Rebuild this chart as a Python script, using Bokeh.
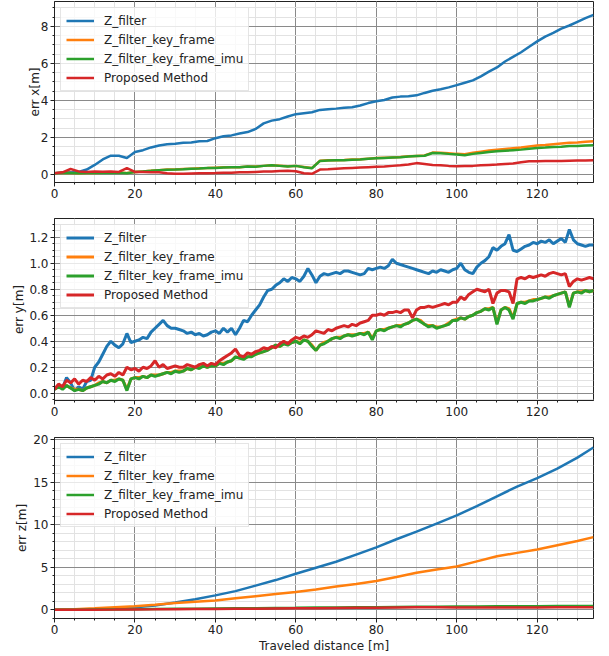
from bokeh.plotting import figure
from bokeh.layouts import column
from bokeh.models import Range1d, SingleIntervalTicker, PrintfTickFormatter
from bokeh.embed import file_html
from bokeh.resources import INLINE

# ---------------- data ----------------
labels = ["Z_filter", "Z_filter_key_frame", "Z_filter_key_frame_imu", "Proposed Method"]
colors = ["#1f77b4", "#ff7f0e", "#2ca02c", "#d62728"]

# panel 1 : err x, sampled every 2 m
d1 = list(range(0, 135, 2))
ex_zf = [0.05, 0.08, 0.1, 0.12, 0.25, 0.5, 0.8, 1.0, 1.0, 0.88,
         1.2, 1.3, 1.45, 1.55, 1.62, 1.65, 1.7, 1.72, 1.78, 1.8,
         1.95, 2.05, 2.1, 2.2, 2.28, 2.45, 2.75, 2.9, 2.98, 3.12,
         3.25, 3.3, 3.35, 3.48, 3.52, 3.55, 3.6, 3.62, 3.72, 3.85,
         3.95, 4.02, 4.15, 4.2, 4.22, 4.27, 4.4, 4.52, 4.6, 4.7,
         4.82, 4.95, 5.08, 5.3, 5.55, 5.78, 6.1, 6.35, 6.6, 6.9,
         7.19, 7.45, 7.65, 7.88, 8.05, 8.25, 8.45, 8.63]
ex_kf = [0.05, 0.08, 0.07, 0.05, 0.07, 0.07, 0.08, 0.08, 0.09, 0.06,
         0.12, 0.15, 0.19, 0.22, 0.25, 0.26, 0.28, 0.3, 0.32, 0.33,
         0.35, 0.37, 0.38, 0.38, 0.42, 0.41, 0.45, 0.49, 0.46, 0.43,
         0.45, 0.39, 0.33, 0.73, 0.75, 0.76, 0.77, 0.79, 0.81, 0.84,
         0.87, 0.89, 0.91, 0.93, 0.97, 0.99, 1.01, 1.17, 1.16, 1.13,
         1.1, 1.08, 1.16, 1.22, 1.28, 1.32, 1.36, 1.4, 1.44, 1.5,
         1.55, 1.58, 1.62, 1.66, 1.7, 1.72, 1.75, 1.78]
ex_imu = [0.05, 0.08, 0.06, 0.05, 0.07, 0.06, 0.08, 0.07, 0.08, 0.05,
          0.12, 0.15, 0.18, 0.22, 0.24, 0.25, 0.27, 0.3, 0.31, 0.33,
          0.34, 0.36, 0.38, 0.37, 0.42, 0.4, 0.45, 0.48, 0.45, 0.42,
          0.45, 0.38, 0.32, 0.72, 0.74, 0.75, 0.76, 0.78, 0.8, 0.83,
          0.86, 0.88, 0.9, 0.92, 0.96, 0.98, 1.0, 1.15, 1.14, 1.1,
          1.07, 1.03, 1.1, 1.15, 1.2, 1.24, 1.27, 1.3, 1.33, 1.38,
          1.42, 1.44, 1.47, 1.49, 1.52, 1.53, 1.55, 1.57]
ex_pm = [0.05, 0.1, 0.28, 0.15, 0.12, 0.15, 0.13, 0.15, 0.12, 0.33,
         0.12, 0.12, 0.1, 0.1, 0.05, 0.02, 0.03, 0.04, 0.05, 0.05,
         0.06, 0.08, 0.08, 0.1, 0.1, 0.12, 0.14, 0.15, 0.17, 0.18,
         0.16, 0.05, 0.02, 0.25, 0.27, 0.3, 0.32, 0.34, 0.36, 0.38,
         0.4, 0.42, 0.45, 0.48, 0.52, 0.6, 0.55, 0.5, 0.48, 0.45,
         0.43, 0.44, 0.45, 0.48, 0.5, 0.52, 0.55, 0.58, 0.65, 0.7,
         0.7, 0.71, 0.72, 0.72, 0.73, 0.74, 0.74, 0.75]

# panel 2 : err y, sampled every 1 m
d2 = list(range(0, 135))
ey_zf = [0.03, 0.06, 0.04, 0.12, 0.08, 0.02, 0.05, 0.03, 0.09, 0.1,
         0.2, 0.24, 0.3, 0.36, 0.4, 0.37, 0.35, 0.38, 0.46, 0.39,
         0.4, 0.41, 0.43, 0.42, 0.47, 0.5, 0.53, 0.56, 0.52, 0.5,
         0.5, 0.49, 0.48, 0.46, 0.47, 0.45, 0.46, 0.44, 0.45, 0.47,
         0.48, 0.46, 0.5, 0.47, 0.5, 0.45, 0.5, 0.56, 0.55, 0.6,
         0.64, 0.68, 0.74, 0.79, 0.8, 0.83, 0.85, 0.88, 0.86, 0.89,
         0.88, 0.86, 0.9, 0.96, 0.91, 0.85, 0.9, 0.92, 0.91, 0.92,
         0.93, 0.92, 0.94, 0.94, 0.93, 0.92, 0.91, 0.92, 0.96, 0.95,
         0.96, 0.97, 0.96, 0.98, 1.03, 1.0, 0.99, 0.98, 0.97, 0.96,
         0.95, 0.94, 0.93, 0.92, 0.94, 0.93, 0.95, 0.94, 0.93, 0.95,
         0.96, 1.0, 0.95, 0.93, 0.92, 0.97, 1.0, 1.02, 1.05, 1.12,
         1.1, 1.13, 1.15, 1.22, 1.1, 1.09, 1.11, 1.13, 1.14, 1.16,
         1.15, 1.17, 1.16, 1.18, 1.15, 1.17, 1.19, 1.16, 1.26, 1.18,
         1.15, 1.14, 1.13, 1.14, 1.14]
ey_kf = [0.03, 0.05, 0.04, 0.06, 0.04, 0.03, 0.03, 0.02, 0.04, 0.05,
         0.06, 0.08, 0.09, 0.08, 0.1, 0.1, 0.11, 0.1, 0.03, 0.11,
         0.12, 0.12, 0.13, 0.12, 0.14, 0.14, 0.14, 0.15, 0.16, 0.16,
         0.17, 0.17, 0.17, 0.19, 0.18, 0.2, 0.2, 0.21, 0.2, 0.22,
         0.21, 0.23, 0.23, 0.24, 0.25, 0.28, 0.27, 0.27, 0.28, 0.29,
         0.3, 0.31, 0.32, 0.34, 0.35, 0.37, 0.36, 0.38, 0.38, 0.39,
         0.4, 0.39, 0.41, 0.4, 0.37, 0.33, 0.37, 0.39, 0.4, 0.42,
         0.43, 0.43, 0.44, 0.45, 0.45, 0.45, 0.46, 0.46, 0.47, 0.42,
         0.48, 0.49, 0.49, 0.5, 0.51, 0.52, 0.52, 0.53, 0.54, 0.56,
         0.57, 0.56, 0.53, 0.52, 0.52, 0.51, 0.51, 0.52, 0.54, 0.56,
         0.57, 0.58, 0.57, 0.59, 0.6, 0.62, 0.63, 0.65, 0.65, 0.66,
         0.54, 0.64, 0.66, 0.65, 0.58, 0.69, 0.7, 0.7, 0.71, 0.72,
         0.72, 0.73, 0.74, 0.74, 0.75, 0.76, 0.77, 0.78, 0.67, 0.77,
         0.78, 0.78, 0.79, 0.78, 0.79]
ey_imu = [0.03, 0.05, 0.03, 0.06, 0.04, 0.02, 0.03, 0.02, 0.04, 0.05,
          0.06, 0.07, 0.09, 0.08, 0.1, 0.09, 0.11, 0.1, 0.02, 0.11,
          0.12, 0.11, 0.13, 0.12, 0.14, 0.13, 0.14, 0.15, 0.16, 0.15,
          0.17, 0.16, 0.17, 0.19, 0.18, 0.2, 0.19, 0.21, 0.2, 0.21,
          0.21, 0.23, 0.22, 0.24, 0.25, 0.28, 0.27, 0.26, 0.28, 0.28,
          0.3, 0.31, 0.32, 0.33, 0.35, 0.37, 0.36, 0.38, 0.37, 0.39,
          0.4, 0.38, 0.41, 0.4, 0.36, 0.33, 0.37, 0.38, 0.4, 0.42,
          0.43, 0.42, 0.44, 0.45, 0.44, 0.45, 0.46, 0.45, 0.47, 0.41,
          0.48, 0.49, 0.48, 0.5, 0.51, 0.52, 0.51, 0.53, 0.54, 0.56,
          0.57, 0.55, 0.53, 0.51, 0.52, 0.5, 0.51, 0.52, 0.53, 0.56,
          0.56, 0.58, 0.57, 0.59, 0.6, 0.62, 0.63, 0.65, 0.64, 0.66,
          0.53, 0.64, 0.66, 0.64, 0.57, 0.69, 0.7, 0.69, 0.71, 0.71,
          0.72, 0.73, 0.74, 0.73, 0.75, 0.76, 0.77, 0.78, 0.66, 0.77,
          0.78, 0.77, 0.79, 0.78, 0.79]
ey_pm = [0.03, 0.07, 0.05, 0.1, 0.08, 0.11, 0.07, 0.1, 0.09, 0.12,
         0.1, 0.13, 0.11, 0.14, 0.15, 0.13, 0.16, 0.14, 0.2, 0.18,
         0.19, 0.17, 0.2, 0.19, 0.21, 0.25, 0.2, 0.22, 0.19, 0.2,
         0.21, 0.2, 0.2, 0.22, 0.21, 0.2, 0.22, 0.23, 0.21, 0.23,
         0.22, 0.25, 0.27, 0.29, 0.31, 0.34, 0.29, 0.28, 0.31, 0.3,
         0.32, 0.33, 0.35, 0.34, 0.36, 0.35, 0.38, 0.4, 0.38, 0.41,
         0.43, 0.42, 0.44, 0.43, 0.45, 0.48, 0.47, 0.46, 0.49, 0.48,
         0.5, 0.51, 0.52, 0.51, 0.53, 0.52, 0.54, 0.55, 0.56, 0.6,
         0.6, 0.61, 0.6, 0.62, 0.62, 0.63, 0.62, 0.64, 0.64, 0.58,
         0.64, 0.66, 0.66, 0.67, 0.66, 0.67, 0.68, 0.69, 0.68, 0.7,
         0.7, 0.74, 0.72, 0.76, 0.78, 0.8, 0.79, 0.78, 0.8, 0.69,
         0.77, 0.79, 0.79, 0.78, 0.69, 0.88, 0.89, 0.88, 0.9, 0.89,
         0.9, 0.91, 0.9, 0.92, 0.93, 0.92, 0.91, 0.92, 0.82, 0.86,
         0.88, 0.87, 0.88, 0.89, 0.88]

# panel 3 : err z, sampled every 5 m
d3 = [0, 5, 10, 15, 20, 25, 30, 35, 40, 45, 50, 55, 60, 65, 70, 75, 80, 85,
      90, 95, 100, 105, 110, 115, 120, 125, 130, 134]
ez_zf = [0.0, 0.05, 0.1, 0.2, 0.3, 0.5, 0.85, 1.25, 1.7, 2.2, 2.85, 3.5, 4.25,
         4.95, 5.65, 6.5, 7.35, 8.3, 9.2, 10.15, 11.1, 12.2, 13.35, 14.5, 15.5,
         16.6, 17.9, 19.1]
ez_kf = [0.0, 0.08, 0.18, 0.3, 0.42, 0.6, 0.8, 0.95, 1.1, 1.35, 1.6, 1.85, 2.1,
         2.4, 2.75, 3.05, 3.4, 3.85, 4.35, 4.75, 5.1, 5.7, 6.3, 6.7, 7.1, 7.6,
         8.1, 8.55]
ez_imu = [0.0, 0.02, 0.04, 0.05, 0.08, 0.1, 0.12, 0.13, 0.16, 0.18, 0.2, 0.22,
          0.23, 0.26, 0.28, 0.3, 0.31, 0.34, 0.36, 0.37, 0.39, 0.4, 0.41, 0.42,
          0.43, 0.44, 0.45, 0.45]
ez_pm = [0.0, 0.01, 0.02, 0.03, 0.05, 0.06, 0.08, 0.1, 0.11, 0.13, 0.14, 0.16,
         0.18, 0.2, 0.22, 0.24, 0.25, 0.27, 0.29, 0.3, 0.28, 0.27, 0.27, 0.28,
         0.28, 0.29, 0.29, 0.3]

FONT = "DejaVu Sans"


def make_panel(xs, series, yr, ylabel, y_interval, y_minor, fmt, height,
               top, bottom, frame_h, lw, label_standoff, xlabel=None):
    p = figure(width=609, height=height, output_backend="svg",
               toolbar_location=None, x_range=Range1d(0, 134),
               y_range=Range1d(*yr), frame_height=frame_h, frame_width=539,
               min_border_left=54, min_border_right=16,
               min_border_top=top, min_border_bottom=bottom)
    for ys, lab, col in zip(series, labels, colors):
        p.line(xs, ys, line_color=col, line_width=lw, legend_label=lab)
    p.xaxis.ticker = SingleIntervalTicker(interval=20, num_minor_ticks=4)
    p.yaxis.ticker = SingleIntervalTicker(interval=y_interval, num_minor_ticks=y_minor)
    if fmt:
        p.yaxis.formatter = PrintfTickFormatter(format=fmt)
    for ax in (p.xaxis, p.yaxis):
        ax.major_label_text_font = FONT
        ax.major_label_text_font_size = "12px"
        ax.major_label_text_color = "#222222"
        ax.axis_label_text_font = FONT
        ax.axis_label_text_font_size = "12px"
        ax.axis_label_text_font_style = "normal"
        ax.axis_label_text_color = "#222222"
        ax.major_tick_in = 0
        ax.major_tick_out = 4
        ax.minor_tick_in = 0
        ax.minor_tick_out = 2
        ax.axis_line_color = "#222222"
        ax.major_tick_line_color = "#222222"
        ax.minor_tick_line_color = "#222222"
        ax.major_label_standoff = 2
    p.yaxis.axis_label = ylabel
    p.yaxis.axis_label_standoff = label_standoff
    if xlabel:
        p.xaxis.axis_label = xlabel
        p.xaxis.axis_label_standoff = 2
    p.grid.grid_line_color = "#8a8a8a"
    p.grid.grid_line_width = 1
    p.grid.minor_grid_line_color = "#e2e2e2"
    p.grid.minor_grid_line_width = 1
    p.outline_line_color = "#222222"
    p.background_fill_color = "white"
    p.border_fill_color = "white"
    lg = p.legend[0]
    lg.location = "top_left"
    lg.margin = 6
    lg.padding = 5
    lg.spacing = 4
    lg.glyph_width = 28
    lg.glyph_height = 15
    lg.label_height = 15
    lg.label_standoff = 10
    lg.label_text_font = FONT
    lg.label_text_font_size = "12px"
    lg.label_text_color = "#222222"
    lg.background_fill_color = "white"
    lg.background_fill_alpha = 0.8
    lg.border_line_color = "#cccccc"
    lg.border_line_width = 1
    return p


p1 = make_panel(d1, [ex_zf, ex_kf, ex_imu, ex_pm], (-0.45, 9.35), "err x[m]",
                2, 4, None, 200, 1, 18, 181, 2.5, -4)
p2 = make_panel(d2, [ey_zf, ey_kf, ey_imu, ey_pm], (-0.056, 1.344), "err y[m]",
                0.2, 4, "%.1f", 218, 18, 18, 182, 3, 0)
p3 = make_panel(d3, [ez_zf, ez_kf, ez_imu, ez_pm], (-1.02, 20.27), "err z[m]",
                5, 5, None, 238, 19, 38, 181, 2.5, 1, xlabel="Traveled distance [m]")

layout = column(p1, p2, p3, spacing=0)
open("out.html", "w").write(file_html(layout, INLINE))
